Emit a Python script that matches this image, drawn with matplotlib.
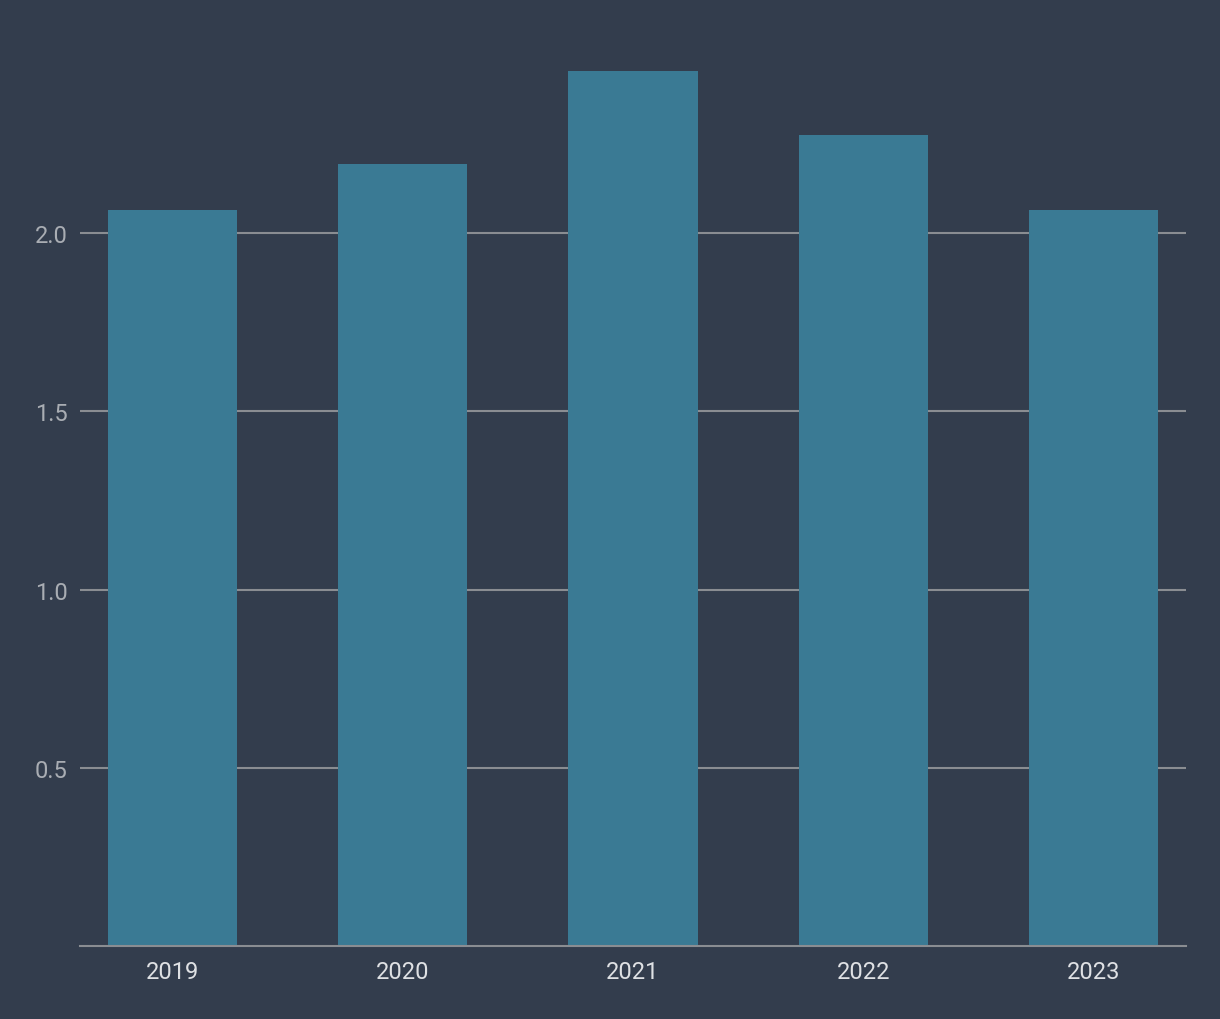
import matplotlib.pyplot as plt

years = ["2019", "2020", "2021", "2022", "2023"]
values = [2.065, 2.195, 2.455, 2.275, 2.065]
y_ticks = [0.5, 1.0, 1.5, 2.0]

bg = "#333d4d"
bar_color = "#3a7a94"
grid_color = "#8a8d92"

plt.rcParams["font.family"] = ["Roboto", "DejaVu Sans"]

fig = plt.figure(figsize=(12.2, 10.2), dpi=100, facecolor=bg)
ax = fig.add_axes([0.0656, 0.0715, 0.9065, 0.9085], facecolor=bg)

ax.bar(range(len(years)), values, width=0.56, color=bar_color, zorder=3)

ax.set_xlim(-0.4, 4.4)
ax.set_ylim(0, 2.6)
ax.set_xticks(range(len(years)))
ax.set_xticklabels(years)
ax.set_yticks(y_ticks)
ax.set_yticklabels([f"{v:.1f}" for v in y_ticks])

ax.grid(axis="y", color=grid_color, linewidth=1.5, zorder=0)
ax.tick_params(axis="y", length=0, pad=9, labelsize=17, labelcolor="#a9adb3")
ax.tick_params(axis="x", length=0, pad=10, labelsize=17, labelcolor="#dfe1e4")

for side in ["top", "right", "left"]:
    ax.spines[side].set_visible(False)
ax.spines["bottom"].set_color(grid_color)
ax.spines["bottom"].set_linewidth(1.5)
ax.spines["bottom"].set_zorder(4)

fig.savefig("out.png", dpi=100, facecolor=bg)
